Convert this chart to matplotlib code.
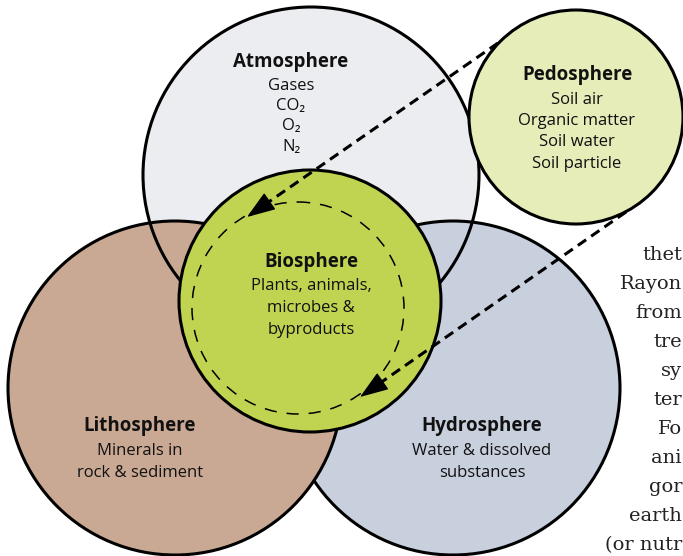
"""Spheres of the earth system: overlapping circles with the pedosphere inset."""

import matplotlib.pyplot as plt
import numpy as np
from matplotlib.patches import Circle

# spheres: name, centre (px), radius (px), fill colour
sphere_names = ["Atmosphere", "Lithosphere", "Hydrosphere", "Pedosphere", "Biosphere"]
sphere_centres = [(311, 175), (175, 388), (453, 388), (576, 117), (310, 301)]
sphere_radii = [168, 167, 167, 107, 131]
sphere_colours = ["#ecedf0", "#caa994", "#c8cfdd", "#e6edb9", "#c0d452"]

# label blocks: title, sub lines, anchor (x, y of title)
label_titles = ["Atmosphere", "Lithosphere", "Hydrosphere", "Pedosphere", "Biosphere"]
label_lines = [
    ["Gases", "CO\u2082", "O\u2082", "N\u2082"],
    ["Minerals in", "rock & sediment"],
    ["Water & dissolved", "substances"],
    ["Soil air", "Organic matter", "Soil water", "Soil particle"],
    ["Plants, animals,", "microbes &", "byproducts"],
]
label_anchors = [(291, 62), (140, 426), (482, 426), (577, 75), (311, 262)]
label_steps = [20.5, 22, 22, 21.5, 21.5]

# dashed flows from the pedosphere into the biosphere cycle
flow_starts = [(498, 43), (626, 212)]
flow_tips = [(247, 217), (360, 397)]
cycle_centre = (298, 308)
cycle_radius = 106

# fragments of the book page behind the figure (as far as they show)
page_words = ["thet", "Rayon", "from", "tre", "sy", "ter",
              "Fo", "ani", "gor", "earth", "(or nutr"]
page_y0 = 255
page_step = 29

SANS = ["Open Sans", "DejaVu Sans"]

fig = plt.figure(figsize=(6.83, 5.56), dpi=100)
ax = fig.add_axes([0, 0, 1, 1])
ax.set_xlim(0, 683)
ax.set_ylim(556, 0)
ax.set_aspect("equal")
ax.axis("off")

lw = 2.2
# atmosphere fill sits at the back, its outline stays visible over the others
spheres = dict(zip(sphere_names, zip(sphere_centres, sphere_radii, sphere_colours)))
c, r, col = spheres["Atmosphere"]
ax.add_patch(Circle(c, r, facecolor=col, edgecolor="none", zorder=0))
ax.add_patch(Circle(c, r, facecolor="none", edgecolor="black", lw=lw, zorder=3))
for name, z in [("Hydrosphere", 1), ("Lithosphere", 2), ("Pedosphere", 4), ("Biosphere", 5)]:
    c, r, col = spheres[name]
    ax.add_patch(Circle(c, r, facecolor=col, edgecolor="black", lw=lw, zorder=z))

# cycle inside the biosphere
ax.add_patch(Circle(cycle_centre, cycle_radius, facecolor="none", edgecolor="black",
                    lw=1.1, linestyle=(0, (8, 6.5)), zorder=6))

for (x0, y0), (x1, y1) in zip(flow_starts, flow_tips):
    ax.plot([x0, x1], [y0, y1], color="black", lw=lw, dashes=(3.3, 2.0),
            solid_capstyle="butt", zorder=7)
    d = np.array([x1 - x0, y1 - y0], dtype=float)
    d /= np.hypot(*d)
    ax.annotate("", xy=(x1, y1), xytext=(x1 - 4 * d[0], y1 - 4 * d[1]),
                arrowprops=dict(arrowstyle="-|>,head_length=0.9,head_width=0.32",
                                mutation_scale=20, color="black", lw=1,
                                shrinkA=0, shrinkB=0),
                zorder=8)

for title, lines, (x, y), step in zip(label_titles, label_lines, label_anchors, label_steps):
    ax.text(x, y, title, ha="center", va="center", fontsize=13.5, fontweight="bold",
            family=SANS, color="#111111", zorder=9)
    for i, line in enumerate(lines):
        ax.text(x, y + step * (i + 1) + 3, line, ha="center", va="center",
                fontsize=12, family=SANS, color="#111111", zorder=9)

for i, word in enumerate(page_words):
    ax.text(682, page_y0 + i * page_step, word, ha="right", va="center", fontsize=14,
            family="DejaVu Serif", color="#222222", zorder=0)

fig.savefig("out.png", dpi=100)
